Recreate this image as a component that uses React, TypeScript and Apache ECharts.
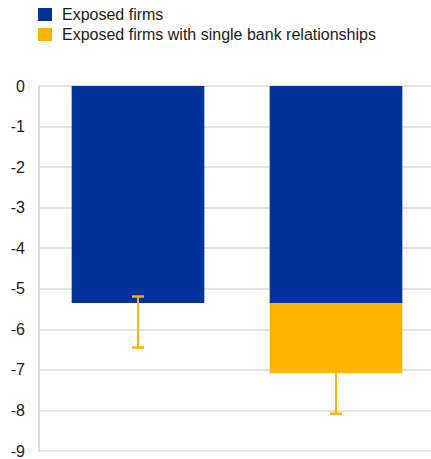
import React, { useEffect, useRef } from "react";
import * as echarts from "echarts";

const categories = ["Exposed firms", "Exposed firms with single bank relationships"];
const exposedFirms = [-5.35, -5.35];
const singleBankExtra = [0, -1.73];
const errorHigh = [-5.19, -7.08];
const errorLow = [-6.45, -8.08];
const errorTopCap = [1, 0];
const yTicks = [0, -1, -2, -3, -4, -5, -6, -7, -8, -9];

const BLUE = "#003299";
const YELLOW = "#FFB400";

export default function App() {
  const ref = useRef<HTMLDivElement>(null);
  useEffect(() => {
    if (!ref.current) return;
    const chart = echarts.init(ref.current, undefined, { renderer: "svg" });
    const errData = categories.map((_, i) => [i, errorHigh[i], errorLow[i], errorTopCap[i]]);
    chart.setOption({
      animation: false,
      textStyle: { fontFamily: "Liberation Sans, Arial, sans-serif" },
      legend: {
        orient: "vertical",
        left: 33,
        top: 1,
        itemWidth: 14,
        itemHeight: 13,
        itemGap: 3,
        icon: "rect",
        textStyle: { fontSize: 16, color: "#1a1a1a", padding: [0, 0, 0, 5], lineHeight: 17 },
        data: ["Exposed firms", "Exposed firms with single bank relationships"],
      },
      grid: { left: 39, top: 86, width: 396, bottom: 6, containLabel: false },
      xAxis: {
        type: "category",
        data: categories,
        boundaryGap: true,
        axisLabel: { show: false },
        axisTick: { show: false },
        axisLine: { show: false },
        splitLine: { show: true, lineStyle: { color: "#d9d9d9", width: 1.5 } },
      },
      yAxis: {
        type: "value",
        min: -9,
        max: 0,
        interval: 1,
        axisLine: { show: true, lineStyle: { color: "#d9d9d9", width: 1.5 } },
        axisTick: { show: false },
        axisLabel: {
          fontSize: 16,
          color: "#1a1a1a",
          margin: 14,
          formatter: (v: number) => (yTicks.includes(v) ? String(v) : ""),
        },
        splitLine: { show: true, lineStyle: { color: "#d9d9d9", width: 1.5 } },
      },
      series: [
        {
          name: "Exposed firms",
          type: "bar",
          stack: "s",
          barWidth: "67%",
          itemStyle: { color: BLUE },
          data: exposedFirms,
        },
        {
          name: "Exposed firms with single bank relationships",
          type: "bar",
          stack: "s",
          barWidth: "67%",
          itemStyle: { color: YELLOW },
          data: singleBankExtra,
        },
        {
          name: "err",
          type: "custom",
          z: 10,
          data: errData,
          encode: { x: 0, y: [1, 2] },
          renderItem: (params: any, api: any) => {
            const x = api.value(0);
            const hi = api.coord([x, api.value(1)]);
            const lo = api.coord([x, api.value(2)]);
            const capTop = api.value(3);
            const hw = 6;
            const style = { stroke: YELLOW, lineWidth: 2 };
            const capStyle = { stroke: YELLOW, lineWidth: 2.5 };
            const children: any[] = [
              { type: "line", shape: { x1: hi[0], y1: hi[1], x2: lo[0], y2: lo[1] }, style },
              { type: "line", shape: { x1: lo[0] - hw, y1: lo[1], x2: lo[0] + hw, y2: lo[1] }, style: capStyle },
            ];
            if (capTop) {
              children.push({ type: "line", shape: { x1: hi[0] - hw, y1: hi[1], x2: hi[0] + hw, y2: hi[1] }, style: capStyle });
            }
            return { type: "group", children };
          },
        },
      ],
    });
    return () => chart.dispose();
  }, []);
  return (
    <div style={{ position: "absolute", left: 0, top: 0, width: 431, height: 459, overflow: "hidden" }}>
      <div ref={ref} style={{ width: 440, height: 459 }} />
    </div>
  );
}
